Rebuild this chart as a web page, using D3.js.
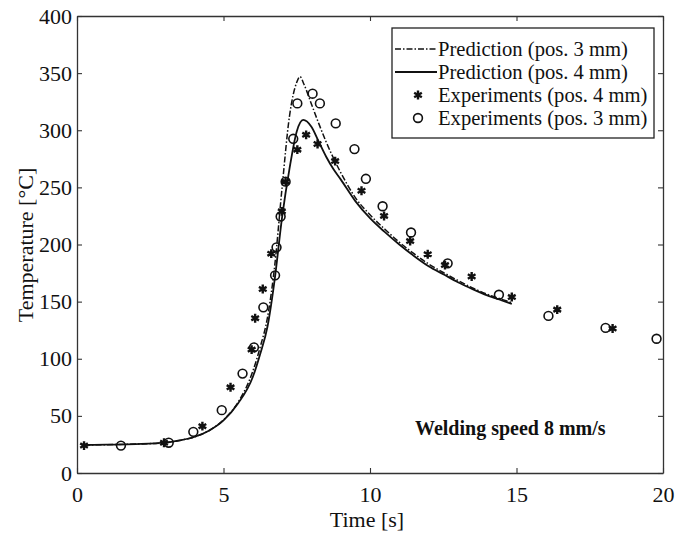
<!DOCTYPE html>
<html>
<head>
<meta charset="utf-8">
<script src="https://cdn.jsdelivr.net/npm/d3@7"></script>
<style>
  body { margin: 0; background: #fff; }
  text { font-family: "Liberation Serif", "Times New Roman", serif; fill: #111; }
</style>
</head>
<body>
<div id="chart"></div>
<script>
// tick values
var timeTicks = [0, 5, 10, 15, 20];
var tempTicks = [0, 50, 100, 150, 200, 250, 300, 350, 400];

// prediction, pos. 3 mm (dash-dot)
var predTime3 = [0.24, 1, 2, 3, 3.5, 4, 4.5, 5, 5.5, 6, 6.25, 6.5, 6.75, 7, 7.25, 7.5, 7.61, 7.75, 8, 8.25, 8.5, 9, 9.5, 10, 10.5, 11, 11.5, 12, 12.5, 13, 13.5, 14, 14.5, 14.84];
var predTemp3 = [24.5, 24.8, 25.3, 26.5, 28.5, 31.5, 37, 46.5, 62, 89, 110, 136, 182, 250, 312, 342, 347, 340, 323, 306, 290, 263, 241, 226, 213.5, 202, 192, 183, 175.5, 168.5, 162, 156.5, 152, 149];

// prediction, pos. 4 mm (solid)
var predTime4 = [0.24, 1, 2, 3, 3.5, 4, 4.5, 5, 5.5, 6, 6.25, 6.5, 6.75, 7, 7.25, 7.5, 7.72, 8, 8.25, 8.5, 8.75, 9, 9.5, 10, 10.5, 11, 11.5, 12, 12.5, 13, 13.5, 14, 14.5, 14.84];
var predTemp4 = [24.5, 24.8, 25.3, 26.5, 28.5, 31.5, 37, 46, 61, 84, 104, 128, 170, 224, 266, 299, 309, 303, 290, 277, 266, 257, 238, 223, 211, 200, 190, 181, 174, 167, 161, 155.5, 151, 148];

// experiments, pos. 4 mm (asterisks)
var expTime4 = [0.24, 2.97, 4.28, 5.24, 5.96, 6.08, 6.34, 6.63, 6.99, 7.12, 7.52, 7.82, 8.21, 8.81, 9.71, 10.48, 11.37, 11.97, 12.56, 13.47, 14.84, 16.39, 18.28];
var expTemp4 = [24, 26.5, 41, 75, 108, 135.5, 161, 192, 229, 255, 283, 296, 288, 273, 247, 225, 203, 191.5, 182, 172, 154, 143, 126.5];

// experiments, pos. 3 mm (circles)
var expTime3 = [1.5, 3.13, 3.97, 4.94, 5.65, 6.04, 6.36, 6.76, 6.81, 6.95, 7.12, 7.38, 7.52, 8.04, 8.29, 8.83, 9.47, 9.86, 10.43, 11.4, 12.65, 14.4, 16.09, 18.04, 19.78];
var expTemp3 = [24, 26.5, 36, 55, 87, 110, 145, 173, 197.5, 224.5, 255, 292.5, 323.5, 332, 323.5, 306, 283.5, 257.5, 233.5, 210.5, 183.5, 156, 137.5, 127, 117.5];

var legendLabels = ["Prediction (pos. 3 mm)", "Prediction (pos. 4 mm)", "Experiments (pos. 4 mm)", "Experiments (pos. 3 mm)"];

var width = 675, height = 533;
var margin = {top: 16, right: 12, bottom: 60, left: 77};
var w = width - margin.left - margin.right;
var h = height - margin.top - margin.bottom;

var svg = d3.select("#chart").append("svg")
    .attr("width", width)
    .attr("height", height);
var g = svg.append("g")
    .attr("transform", "translate(" + margin.left + "," + margin.top + ")");

var x = d3.scaleLinear().domain([0, 20]).range([0, w]);
var y = d3.scaleLinear().domain([0, 400]).range([h, 0]);

// axes, ticks pointing inward
function styleAxis(sel) {
    sel.select(".domain").attr("stroke", "#333").attr("stroke-width", 1.3);
    sel.selectAll(".tick line").attr("stroke", "#333").attr("stroke-width", 1.1);
    sel.selectAll("text").style("font-size", "22px").style("font-family", "'Liberation Serif', serif").attr("fill", "#222");
}
g.append("g")
    .attr("transform", "translate(0," + h + ")")
    .call(d3.axisBottom(x).tickValues(timeTicks).tickSizeInner(-5).tickSizeOuter(0).tickPadding(13))
    .call(styleAxis);
g.append("g")
    .call(d3.axisTop(x).tickValues(timeTicks).tickSizeInner(-5).tickSizeOuter(0).tickFormat(""))
    .call(styleAxis);
g.append("g")
    .call(d3.axisLeft(y).tickValues(tempTicks).tickSizeInner(-5).tickSizeOuter(0).tickPadding(5))
    .call(styleAxis);
g.append("g")
    .attr("transform", "translate(" + w + ",0)")
    .call(d3.axisRight(y).tickValues(tempTicks).tickSizeInner(-5).tickSizeOuter(0).tickFormat(""))
    .call(styleAxis);

// axis titles
svg.append("text")
    .attr("transform", "translate(33,245) rotate(-90)")
    .attr("text-anchor", "middle")
    .style("font-size", "22px")
    .text("Temperature [°C]");
svg.append("text")
    .attr("x", margin.left + x(10) - 3)
    .attr("y", 527)
    .attr("text-anchor", "middle")
    .style("font-size", "22px")
    .text("Time [s]");

// prediction lines
var line = d3.line()
    .x(function(d) { return x(d[0]); })
    .y(function(d) { return y(d[1]); })
    .curve(d3.curveMonotoneX);

var pred4 = predTime4.map(function(t, i) { return [t, predTemp4[i]]; });
var pred3 = predTime3.map(function(t, i) { return [t, predTemp3[i]]; });

g.append("path")
    .datum(pred4)
    .attr("d", line)
    .attr("fill", "none")
    .attr("stroke", "#111")
    .attr("stroke-width", 1.8);
g.append("path")
    .datum(pred3)
    .attr("d", line)
    .attr("fill", "none")
    .attr("stroke", "#111")
    .attr("stroke-width", 1.5)
    .attr("stroke-dasharray", "6,2,1.5,2");

// experiment markers
var star = d3.symbol().type(d3.symbolAsterisk).size(55);

g.selectAll(".exp3")
    .data(expTime3)
    .enter().append("circle")
    .attr("class", "exp3")
    .attr("cx", function(d) { return x(d); })
    .attr("cy", function(d, i) { return y(expTemp3[i]); })
    .attr("r", 4.4)
    .attr("fill", "none")
    .attr("stroke", "#111")
    .attr("stroke-width", 1.6);

g.selectAll(".exp4")
    .data(expTime4)
    .enter().append("path")
    .attr("class", "exp4")
    .attr("d", star)
    .attr("transform", function(d, i) {
        return "translate(" + x(d) + "," + y(expTemp4[i]) + ")";
    })
    .attr("fill", "none")
    .attr("stroke", "#111")
    .attr("stroke-width", 2.4);

// legend
var leg = svg.append("g");
leg.append("rect")
    .attr("x", 392).attr("y", 28)
    .attr("width", 262).attr("height", 110)
    .attr("fill", "#fff")
    .attr("stroke", "#222")
    .attr("stroke-width", 1.3);

var rowBase = [56, 79, 102, 125];
legendLabels.forEach(function(lbl, i) {
    var cy = rowBase[i] - 7;
    if (i == 0) {
        leg.append("line").attr("x1", 395).attr("x2", 437).attr("y1", cy).attr("y2", cy)
            .attr("stroke", "#111").attr("stroke-width", 1.5).attr("stroke-dasharray", "6,2,1.5,2");
    } else if (i == 1) {
        leg.append("line").attr("x1", 395).attr("x2", 437).attr("y1", cy).attr("y2", cy)
            .attr("stroke", "#111").attr("stroke-width", 1.8);
    } else if (i == 2) {
        leg.append("path").attr("d", star)
            .attr("transform", "translate(418," + cy + ")")
            .attr("fill", "none").attr("stroke", "#111").attr("stroke-width", 2.4);
    } else {
        leg.append("circle").attr("cx", 418).attr("cy", cy).attr("r", 4.4)
            .attr("fill", "none").attr("stroke", "#111").attr("stroke-width", 1.6);
    }
    leg.append("text")
        .attr("x", 438)
        .attr("y", rowBase[i])
        .style("font-size", "20.6px")
        .text(lbl);
});

// annotation
svg.append("text")
    .attr("x", 415)
    .attr("y", 435)
    .style("font-size", "20px")
    .style("font-weight", "bold")
    .text("Welding speed 8 mm/s");
</script>
</body>
</html>
